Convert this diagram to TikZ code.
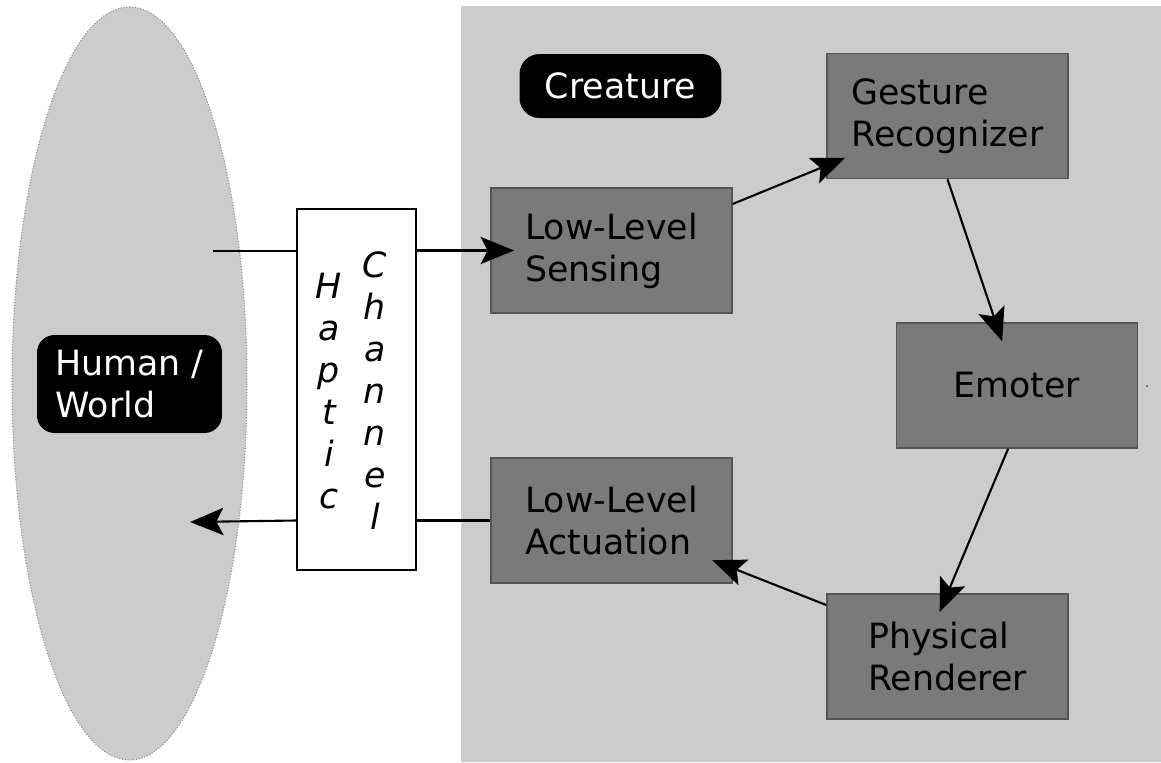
\documentclass[tikz,border=0pt]{standalone}
\usepackage{fontspec}
\setmainfont{DejaVu Sans}
\usetikzlibrary{arrows.meta,calc}
\newcommand{\diagfont}{\fontsize{19.8}{23.8}\selectfont}

\begin{document}
\begin{tikzpicture}[x=0.02cm,y=-0.02cm,line join=miter,
  >={Stealth[length=19pt,width=15.5pt,inset=4pt]},
  blk/.style={draw=boxline,fill=boxfill,line width=0.85pt,minimum width=4.82cm,
    minimum height=2.5cm,align=left,inner sep=0pt,font=\diagfont},
  tag/.style={fill=black,text=white,rounded corners=0.35cm,align=left,
    inner sep=0pt,font=\diagfont},
  hap/.style={anchor=base,inner sep=0pt,font=\diagfont\itshape},
  wire/.style={line width=1.2pt},
  flow/.style={->,line width=1.2pt,shorten >=-11.5pt}]
  \definecolor{bggray}{RGB}{204,204,204}
  \definecolor{boxfill}{RGB}{122,122,122}
  \definecolor{boxline}{RGB}{85,85,85}
  \definecolor{rimgray}{RGB}{140,140,140}

  \useasboundingbox (0,0) rectangle (1161,762);

  % ---- backgrounds ----
  \fill[bggray] (461,6) rectangle (1161,762);
  \draw[densely dotted,rimgray,line width=0.6pt,fill=bggray]
    (129.5,383.5) ellipse [x radius=117.5,y radius=376.5];

  % ---- labels ----
  \node[tag,minimum width=3.7cm,minimum height=1.96cm] (hw) at (129.5,384) {Human /\\World};
  \node[tag,minimum width=4.04cm,minimum height=1.28cm,rounded corners=0.4cm]
    (crt) at (620.5,86) {Creature};

  % ---- haptic channel ----
  \node[draw,fill=white,line width=1.4pt,minimum width=2.38cm,minimum height=7.22cm,
    inner sep=0pt] (hch) at (356.5,389.5) {};
  \foreach \ch [count=\k] in {H,a,p,t,i,c}
    \node[hap] (hp\k) at (329,{298+42*(\k-1)}) {\ch};
  \foreach \ch [count=\k] in {C,h,a,n,n,e,l}
    \node[hap] (cn\k) at (375,{277+42*(\k-1)}) {\ch};

  % ---- creature blocks ----
  \node[blk] (sens) at (611.5,250.5) {Low-Level\\Sensing};
  \node[blk] (gest) at (947.5,116) {Gesture\\Recognizer};
  \node[blk] (emot) at (1017,385.5) {Emoter};
  \node[blk] (act) at (611.5,520.5) {Low-Level\\Actuation};
  \node[blk] (phys) at (947.5,656.5) {Physical\\Renderer};
  \fill[black!70] (1147,386) circle (0.7pt);

  % ---- connectors ----
  \coordinate (inL) at (213,251);
  \coordinate (outL) at (190,522);
  \draw[wire] (inL) -- (inL -| hch.west);
  \draw[flow,shorten >=-13.5pt] (hch.east |- sens.west) -- (sens.west);
  \draw[flow] (sens.21.8) -- (gest);
  \draw[flow] (gest.south) -- (emot);
  \draw[flow] (emot.-98) -- (phys.north);
  \draw[flow,shorten >=-12.5pt] (phys.157.5) -- (act);
  \draw[wire] (act.west) -- (act.west -| hch.east);
  \draw[flow,shorten >=0pt] (act.west -| hch.west) -- (outL);
\end{tikzpicture}
\end{document}
